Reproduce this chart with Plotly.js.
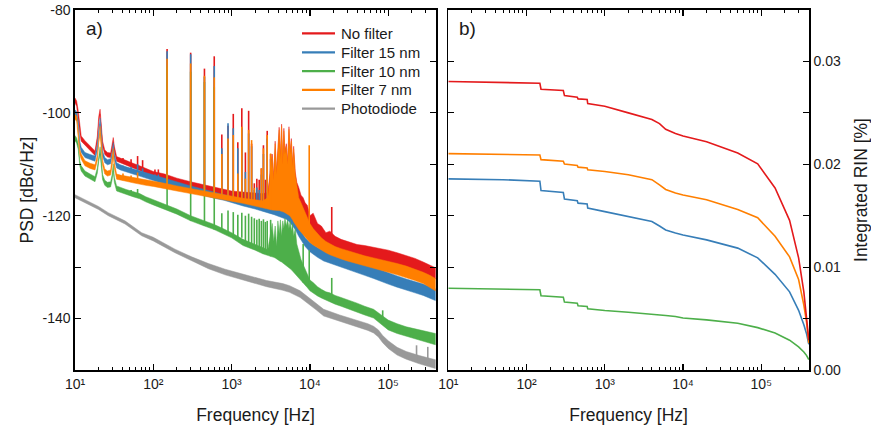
<!DOCTYPE html>
<html><head><meta charset="utf-8">
<script src="https://cdn.plot.ly/plotly-3.0.1.min.js"></script>
<style>html,body{margin:0;padding:0;background:#fff}#chart{width:871px;height:429px}</style>
</head><body><div id="chart"></div>
<script>
// ---------- Panel a) PSD data (dBc/Hz) ----------
const fineHz = [10,10.5,11,11.5,12,13.4,15.6,18,19.3,20.1,20.9,21.7,22.5,24,26,28.5,29.8,30.8,31.8,34,38,45,55,67,80,100,140,200,300,450,600,800,1000,1400,2000,2500,2900,3100,3300,3450,3600,3750,3900,4050,4200,4350,4500,4650,4800,5000,5200,5400,5600,5800,6000,6200,6500,6800,7200,7700,8200,8700,9300,10000,11000,12500,14000,16000,18000,21000,25000,30000,40000,50000,65000,80000,100000,130000,170000,220000,280000,340000,400000];

const redHi = [-97.1,-97.7,-99.6,-102.8,-104.5,-105.4,-106.4,-107.4,-104.5,-100.7,-99.3,-102.0,-105.5,-107.2,-107.7,-107.8,-106.3,-104.8,-106.5,-108.5,-108.8,-109.3,-109.8,-110.3,-110.8,-111.4,-111.9,-112.7,-113.4,-114.0,-114.4,-114.8,-115.2,-115.4,-115.5,-115.7,-115.5,-111.5,-108.0,-112.5,-105.5,-111.5,-106.0,-102.8,-108.5,-102.2,-109.5,-103.0,-107.5,-106.0,-109.5,-102.7,-107.5,-105.0,-110.0,-106.5,-111.5,-113.5,-114.5,-116.0,-116.5,-117.5,-118.0,-120.0,-119.5,-121.5,-122.0,-123.3,-123.0,-124.0,-124.6,-125.0,-125.6,-125.8,-126.1,-126.4,-126.7,-127.2,-127.7,-128.3,-129.0,-129.6,-130.1];
const redLo = [-98.1,-98.7,-100.6,-103.8,-105.5,-106.3,-107.3,-108.3,-105.5,-101.7,-100.3,-103.0,-106.5,-108.1,-108.6,-108.7,-107.3,-105.8,-107.5,-109.4,-109.7,-110.2,-110.7,-111.2,-111.7,-112.4,-113.0,-113.8,-114.6,-115.2,-115.6,-116.0,-116.4,-116.7,-117.0,-117.2,-117.3,-117.4,-117.5,-117.5,-117.6,-117.7,-117.8,-118.0,-118.0,-118.1,-118.2,-118.3,-118.4,-118.5,-118.6,-118.7,-118.8,-119.0,-119.2,-119.5,-120.0,-120.5,-121.0,-121.5,-122.0,-122.5,-123.0,-123.5,-124.0,-124.7,-125.2,-125.8,-126.2,-126.7,-127.0,-127.3,-127.9,-128.2,-128.5,-128.8,-129.0,-129.5,-130.0,-130.6,-131.2,-131.8,-132.3];

const orangeHi = [-100.3,-100.6,-103.5,-107.1,-108.0,-109.3,-109.8,-110.1,-108.2,-104.6,-102.6,-105.1,-109.2,-110.9,-111.3,-111.1,-109.2,-106.9,-109.7,-111.9,-112.1,-112.3,-112.6,-112.8,-113.1,-113.3,-113.7,-114.2,-114.7,-115.2,-115.6,-115.9,-116.2,-116.6,-116.9,-117.1,-116.5,-112.0,-108.5,-113.0,-106.0,-112.0,-106.5,-103.3,-109.0,-102.6,-110.0,-103.5,-108.0,-106.5,-110.0,-103.2,-108.0,-105.5,-110.5,-107.0,-112.0,-114.5,-116.5,-117.5,-118.5,-119.5,-120.5,-121.5,-122.5,-123.5,-124.3,-125.0,-125.5,-126.0,-126.4,-126.8,-127.4,-127.8,-128.2,-128.5,-128.8,-129.3,-129.8,-130.4,-131.0,-131.6,-132.2];
const orangeLo = [-101.3,-101.6,-104.5,-108.1,-109.0,-110.3,-110.8,-111.1,-109.2,-105.8,-104.0,-106.3,-110.2,-111.9,-112.3,-112.1,-110.2,-108.3,-110.7,-112.9,-113.1,-113.3,-113.6,-113.8,-114.1,-114.3,-114.7,-115.2,-115.7,-116.2,-116.6,-116.9,-117.2,-117.6,-118.1,-118.4,-118.7,-118.8,-118.9,-119.0,-119.0,-119.0,-119.0,-119.0,-119.1,-119.1,-119.2,-119.3,-119.4,-119.5,-119.7,-119.9,-120.1,-120.4,-120.8,-121.2,-121.7,-122.2,-122.7,-123.2,-123.7,-124.2,-124.7,-125.2,-125.7,-126.2,-126.7,-127.2,-127.6,-128.0,-128.4,-128.8,-129.4,-129.8,-130.3,-130.6,-131.0,-131.5,-132.0,-132.6,-133.2,-133.9,-134.6];

const greenHi = [-104.4,-104.9,-106.1,-109.3,-110.3,-111.3,-111.9,-112.4,-110.7,-108.4,-106.6,-108.8,-112.0,-113.1,-113.5,-113.4,-112.0,-109.9,-112.5,-114.2,-114.5,-114.9,-115.3,-115.7,-116.3,-116.9,-117.7,-118.7,-120.0,-121.0,-121.7,-122.6,-123.3,-124.6,-125.5,-126.2,-126.6,-124.0,-121.5,-125.0,-122.0,-126.0,-121.0,-123.5,-120.8,-124.0,-121.0,-122.5,-120.5,-122.0,-120.8,-122.5,-121.0,-123.0,-121.5,-124.0,-122.5,-125.5,-127.0,-128.5,-129.5,-130.5,-131.5,-132.5,-133.0,-133.8,-134.3,-134.8,-135.0,-135.5,-135.9,-136.3,-137.0,-137.6,-138.2,-139.2,-140.3,-141.0,-141.6,-142.0,-142.4,-142.7,-142.9];
const greenLo = [-105.4,-105.9,-107.1,-110.3,-111.3,-112.3,-112.9,-113.4,-111.7,-109.4,-108.0,-109.8,-113.0,-114.1,-114.5,-114.4,-113.0,-111.3,-113.5,-115.2,-115.5,-115.9,-116.3,-116.7,-117.3,-117.9,-118.7,-119.7,-121.0,-122.0,-122.7,-123.6,-124.3,-125.8,-126.7,-127.4,-127.8,-127.9,-128.0,-128.1,-128.2,-128.4,-128.5,-128.7,-128.9,-129.0,-129.2,-129.3,-129.5,-129.7,-129.9,-130.1,-130.3,-130.5,-130.7,-130.9,-131.2,-131.5,-132.0,-132.5,-133.0,-133.5,-134.0,-134.6,-135.0,-135.6,-136.0,-136.4,-136.8,-137.2,-137.6,-138.0,-138.8,-139.3,-139.9,-141.0,-142.2,-142.9,-143.5,-144.0,-144.4,-144.8,-145.1];

const blueHz = [10,10.5,11,11.5,12,13.4,15.6,18,19.3,20.1,20.9,21.7,22.5,24,26,28.5,29.8,30.8,31.8,34,38,45,55,67,80,100,140,200,300,450,600,800,1000,1400,2000,2500,3000,3500,4000,4500,5000,5500,6000,6500,7200,8000,8700,10000,12500,15000,20000,25000,30000,40000,50000,65000,80000,100000,130000,170000,220000,280000,340000,400000];
const blueHi = [-99.4,-99.8,-101.6,-105.5,-106.7,-107.7,-108.1,-108.4,-106.2,-103.0,-101.0,-103.7,-107.4,-108.7,-109.1,-108.9,-107.7,-105.8,-108.0,-109.7,-110.1,-110.5,-110.9,-111.3,-111.7,-112.1,-112.7,-113.5,-114.2,-114.9,-115.4,-115.8,-116.2,-116.8,-117.4,-117.8,-118.2,-118.5,-118.8,-119.0,-119.3,-119.7,-120.3,-121.0,-122.2,-123.4,-124.3,-125.2,-126.2,-126.8,-127.4,-127.9,-128.3,-128.9,-129.4,-130.0,-130.5,-131.1,-131.7,-132.3,-132.8,-133.3,-133.8,-134.2];
const blueLo = [-100.4,-100.8,-102.6,-106.5,-107.7,-108.7,-109.1,-109.4,-107.2,-104.0,-102.2,-104.7,-108.4,-109.7,-110.1,-109.9,-108.7,-107.0,-109.0,-110.7,-111.1,-111.5,-111.9,-112.3,-112.7,-113.1,-113.9,-114.7,-115.4,-116.1,-116.6,-117.0,-117.4,-118.1,-118.7,-119.1,-119.5,-119.8,-120.1,-120.4,-120.7,-121.2,-121.9,-122.7,-124.0,-125.2,-126.0,-127.0,-128.1,-128.8,-129.5,-130.0,-130.4,-131.1,-131.6,-132.2,-132.7,-133.3,-133.9,-134.5,-135.0,-135.5,-136.0,-136.5];

const greyHz = [10,13.4,20,26.6,43.5,71,100,189,309,506,826,1350,2800,4500,5500,7500,9100,12000,15000,24000,40000,55000,65000,75000,85000,100000,130000,170000,250000,400000];
const greyHi = [-115.9,-116.9,-118.2,-119.4,-121.0,-123.3,-124.2,-126.5,-128.0,-129.3,-130.4,-131.3,-132.6,-133.2,-133.6,-134.6,-135.6,-137.0,-138.2,-139.3,-140.3,-141.0,-141.5,-142.2,-143.3,-144.3,-145.6,-146.4,-147.2,-148.0];
const greyLo = [-116.5,-117.5,-118.8,-120.0,-121.6,-123.9,-124.9,-127.2,-128.8,-130.3,-131.5,-132.5,-133.8,-134.5,-134.9,-135.9,-136.9,-138.3,-139.5,-140.6,-141.6,-142.3,-142.8,-143.6,-144.7,-145.8,-147.1,-147.9,-148.8,-149.7];

// narrow spectral spikes: frequency and peak level per series (null = no visible spike)
const spikeHz = [41,52,63,73,105,116,150,300,450,600,750,900,1050,1200,1350,1500,1650,1800,1950,2100,2250,2400,2550,2700,2850,3150,8200,9800,19000,85000,230000,320000];
const redSpike    = [-108.8,-109.0,-108.4,-109.2,-111.0,-111.0,-87.6,-88.3,-91.4,-89.0,-104.2,-102.5,-100.2,-105.7,-99.1,-107.7,-99.6,-106.0,-113.7,-112.8,-113.0,-110.8,-106.3,-113.0,-103.5,-108.0,null,null,-118.3,null,null,null];
const blueSpike   = [-110.3,-110.5,-110.0,-110.8,-112.0,-112.0,-88.0,-88.6,-93.0,-90.9,-106.9,-102.0,-103.0,-106.9,-103.0,-111.5,-104.0,-106.5,-115.0,-114.5,-115.0,-112.0,-108.0,null,-105.0,-109.0,null,null,null,null,null,null];
const greenSpike  = [null,-115.0,-114.8,null,null,null,-91.0,-92.0,-94.0,-95.0,-119.5,-119.0,-119.3,-119.8,-119.4,-120.0,-119.6,-120.2,-120.5,-120.8,-120.6,-121.0,-120.7,-121.2,-121.0,-120.8,-125.5,-126.7,-132.1,-138.4,null,null];
const orangeSpike = [-111.8,-112.2,-111.6,null,null,null,-89.5,-90.4,-92.8,-93.1,-108.0,-105.0,-104.3,-111.8,-102.7,-112.8,-103.3,-105.3,-114.6,null,null,-110.8,-106.9,null,-104.3,-107.9,null,-106.3,null,null,null,null];
const greySpike   = [null,null,null,null,null,null,null,null,null,null,null,null,null,null,null,null,null,null,null,null,null,null,null,null,null,null,null,null,null,null,-145.2,-145.5];

// ---------- Panel b) integrated RIN (%) ----------
const rinHz = [10,50,148,153,295,305,445,455,595,605,1000,2000,4000,5000,6000,8000,10000,20000,50000,90000,150000,230000,300000,350000,380000,405000];
const rinRed    = [0.02805,0.02795,0.02788,0.02730,0.02717,0.02669,0.02652,0.02636,0.02630,0.02590,0.02565,0.02500,0.02435,0.02395,0.02340,0.02300,0.02275,0.02220,0.02110,0.02005,0.01770,0.01455,0.01090,0.00760,0.00530,0.00290];
const rinBlue   = [0.01858,0.01850,0.01835,0.01745,0.01725,0.01662,0.01645,0.01622,0.01615,0.01575,0.01540,0.01491,0.01443,0.01400,0.01362,0.01332,0.01313,0.01265,0.01185,0.01090,0.00930,0.00760,0.00580,0.00440,0.00350,0.00250];
const rinGreen  = [0.00795,0.00790,0.00780,0.00722,0.00708,0.00660,0.00650,0.00625,0.00618,0.00595,0.00578,0.00562,0.00546,0.00538,0.00530,0.00520,0.00505,0.00487,0.00455,0.00412,0.00360,0.00290,0.00225,0.00175,0.00140,0.00100];
const rinOrange = [0.02104,0.02097,0.02090,0.02045,0.02030,0.02002,0.01988,0.01972,0.01964,0.01946,0.01930,0.01898,0.01850,0.01800,0.01755,0.01720,0.01702,0.01655,0.01560,0.01480,0.01300,0.01100,0.00880,0.00630,0.00460,0.00260];

const seriesNames = ['No filter','Filter 15 nm','Filter 10 nm','Filter 7 nm','Photodiode'];
const xTickVals = [10,100,1000,10000,100000];
const xTickText = ['10\u00B9','10\u00B2','10\u00B3','10\u2074','10\u2075'];
const yTickVals = [-140,-120,-100,-80];
const yTickText = ['-140','-120','-100','-80'];

const C = {red:'#e41a1c', blue:'#377eb8', green:'#4daf4a', orange:'#ff7f00', grey:'#999999'};
const seriesColors = [C.red, C.blue, C.green, C.orange, C.grey];

function band(freq, hi, lo, color) {
  return {type:'scatter', mode:'lines', x: freq.concat(freq.slice().reverse()),
    y: hi.concat(lo.slice().reverse()), fill:'toself', fillcolor: color,
    line:{color: color, width: 0.5}, showlegend:false, hoverinfo:'skip', xaxis:'x', yaxis:'y'};
}
function spikes(freq, lo, tops, color) {
  const xs = [], ys = [];
  spikeHz.forEach((f, i) => {
    if (tops[i] === null) return;
    let j = 0;
    for (let k = 0; k < freq.length; k++) if (freq[k] <= f) j = k;
    xs.push(f, f, null); ys.push(lo[j], tops[i], null);
  });
  return {type:'scatter', mode:'lines', x: xs, y: ys, line:{color: color, width: 1.6},
    showlegend:false, hoverinfo:'skip', connectgaps:false, xaxis:'x', yaxis:'y'};
}
function rin(y, color) {
  return {type:'scatter', mode:'lines', x: rinHz, y: y, line:{color: color, width: 1.6},
    showlegend:false, xaxis:'x2', yaxis:'y2'};
}

const traces = [
  band(greyHz, greyHi, greyLo, C.grey), spikes(greyHz, greyLo, greySpike, C.grey),
  band(fineHz, redHi, redLo, C.red), spikes(fineHz, redLo, redSpike, C.red),
  band(blueHz, blueHi, blueLo, C.blue), spikes(blueHz, blueLo, blueSpike, C.blue),
  band(fineHz, greenHi, greenLo, C.green), spikes(fineHz, greenLo, greenSpike, C.green),
  band(fineHz, orangeHi, orangeLo, C.orange), spikes(fineHz, orangeLo, orangeSpike, C.orange),
  rin(rinGreen, C.green), rin(rinBlue, C.blue), rin(rinOrange, C.orange), rin(rinRed, C.red)
];

const minorX = [];
for (let d = 10; d <= 100000; d *= 10) for (let k = 2; k <= 9; k++) if (k*d <= 407000) minorX.push(k*d);
const minorY = [];
for (let v = -150; v <= -80; v += 10) minorY.push(v);

const FONT = 'Liberation Sans, Arial, sans-serif';
const TXT = '#1a1a1a';
const TICKFONT = {family:FONT, size:14, color:TXT};
const TITLEFONT = {family:FONT, size:17.5, color:TXT};
const xCommon = {type:'log', range:[1, 5.61], showline:true, linecolor:'#000', linewidth:1.7,
  mirror:'ticks', ticks:'inside', ticklen:6, tickwidth:1.2, tickcolor:'#000',
  tickmode:'array', tickvals: xTickVals, ticktext: xTickText,
  minor:{tickmode:'array', tickvals: minorX, ticks:'inside', ticklen:3, tickwidth:1, tickcolor:'#000'},
  showgrid:false, zeroline:false, tickfont: TICKFONT,
  title:{text:'Frequency [Hz]', font: TITLEFONT, standoff:18}};

// legend drawn as line samples + text, placed like the original
const legendRowsPx = [33.3, 52.3, 71.1, 89.9, 108.7];
const pyToPaper = py => 1 - (py - 10) / 360;
const pxToPaper = px => (px - 75) / 734;
const shapes = [], annotations = [];
seriesNames.forEach((name, i) => {
  const yp = pyToPaper(legendRowsPx[i]);
  shapes.push({type:'line', xref:'paper', yref:'paper', x0: pxToPaper(302), x1: pxToPaper(335), y0: yp, y1: yp,
    line:{color: seriesColors[i], width: 2.2}});
  annotations.push({text: name, xref:'paper', yref:'paper', x: pxToPaper(339), y: yp, xanchor:'left', yanchor:'middle',
    showarrow:false, font:{family:FONT, size:15, color:TXT}});
});
annotations.push({text:'a)', xref:'paper', yref:'paper', x: pxToPaper(84), y: pyToPaper(28), xanchor:'left', yanchor:'middle', showarrow:false, font:{family:FONT, size:19, color:TXT}});
annotations.push({text:'b)', xref:'paper', yref:'paper', x: pxToPaper(457), y: pyToPaper(28), xanchor:'left', yanchor:'middle', showarrow:false, font:{family:FONT, size:19, color:TXT}});

const layout = {
  width:871, height:429, margin:{l:75, r:62, t:10, b:59},
  paper_bgcolor:'#fff', plot_bgcolor:'#fff', font:{family:FONT, color:TXT},
  showlegend:false,
  xaxis: Object.assign({}, xCommon, {domain:[0, 0.4918], anchor:'y'}),
  xaxis2: Object.assign({}, xCommon, {domain:[0.5086, 1], anchor:'y2'}),
  yaxis: {range:[-150, -80], anchor:'x', showline:true, linecolor:'#000', linewidth:1.7,
    mirror:'ticks', ticks:'inside', ticklen:6, tickwidth:1.2, tickcolor:'#000',
    tickmode:'array', tickvals: yTickVals, ticktext: yTickText,
    minor:{tickmode:'array', tickvals: minorY, ticks:'inside', ticklen:6, tickwidth:1.2, tickcolor:'#000'},
    showgrid:false, zeroline:false, tickfont: TICKFONT,
    title:{text:'PSD [dBc/Hz]', font: TITLEFONT, standoff:4}},
  yaxis2: {range:[0, 0.035], anchor:'x2', side:'right', showline:true, linecolor:'#000', linewidth:1.7,
    mirror:'ticks', ticks:'inside', ticklen:6, tickwidth:1.2, tickcolor:'#000',
    tick0:0, dtick:0.01, tickformat:'.2f', minor:{dtick:0.005, ticks:'inside', ticklen:6, tickwidth:1.2, tickcolor:'#000'},
    showgrid:false, zeroline:false, tickfont: TICKFONT,
    title:{text:'Integrated RIN [%]', font: TITLEFONT, standoff:19}},
  shapes: shapes,
  annotations: annotations
};

Plotly.newPlot('chart', traces, layout, {displayModeBar:false, staticPlot:true});
</script></body></html>
